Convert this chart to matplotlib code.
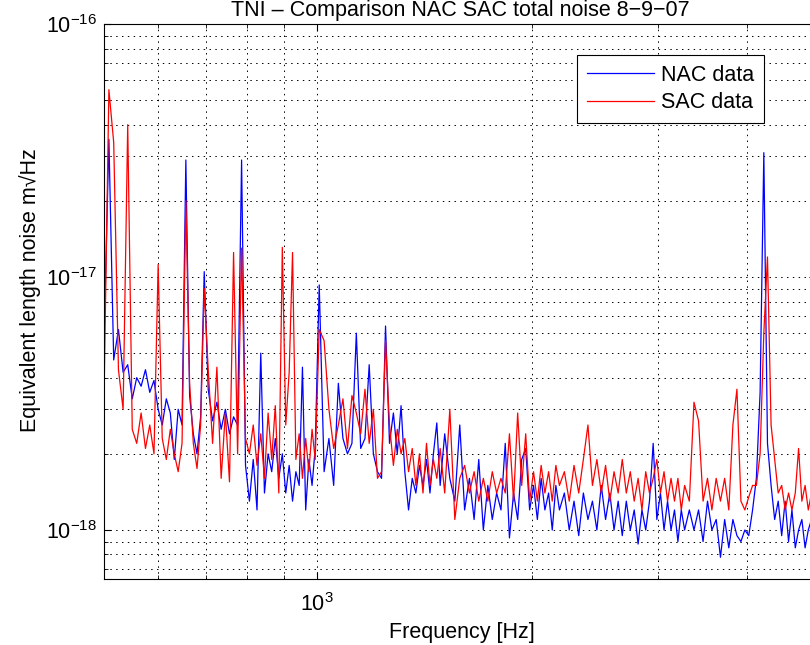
import numpy as np
import matplotlib
matplotlib.use("Agg")
import matplotlib.pyplot as plt
from matplotlib.ticker import NullFormatter, FixedLocator

plt.rcParams['font.family'] = ['Liberation Sans', 'DejaVu Sans']
plt.rcParams['mathtext.fontset'] = 'custom'
plt.rcParams['mathtext.rm'] = 'Liberation Sans'
plt.rcParams['mathtext.it'] = 'Liberation Sans:italic'
plt.rcParams['mathtext.bf'] = 'Liberation Sans:bold'

# frequency bins [Hz]
freq = [504, 512, 520, 528, 536, 544, 552, 560, 568, 576, 584, 592, 600,
        608, 616, 624, 632, 640, 648, 656, 664, 672, 680, 688, 696,
        705, 715, 725, 735, 745, 755, 765, 775, 785, 795, 805, 815, 825,
        835, 845, 855, 865, 875, 885, 895, 905, 915, 925, 935, 945, 955,
        965, 975, 985, 995,
        1008, 1024, 1040, 1056, 1072, 1088, 1104, 1120, 1136, 1152, 1168,
        1184, 1200, 1216, 1232, 1248, 1264, 1280, 1296, 1312, 1328, 1344,
        1360, 1376, 1392, 1408, 1424, 1440, 1456, 1472, 1488,
        1510, 1535, 1560, 1585, 1610, 1635, 1660, 1685, 1710, 1735, 1760,
        1785, 1810, 1835, 1860, 1885, 1910, 1935, 1960, 1985, 2010, 2035,
        2060, 2085, 2110, 2135, 2160, 2185,
        2220, 2255, 2290, 2325, 2360, 2395, 2430, 2465, 2500, 2535, 2570,
        2605, 2640, 2675, 2710, 2745, 2780, 2815, 2850, 2885, 2920, 2955,
        2990, 3025, 3060, 3095, 3130, 3165, 3200, 3235, 3270,
        3320, 3370, 3420, 3470, 3520, 3570, 3620, 3670, 3720, 3770, 3820,
        3870, 3920, 3970, 4020, 4070, 4120, 4170, 4220, 4270, 4320, 4370,
        4420, 4470, 4520, 4570, 4620, 4670, 4720, 4770, 4820, 4870, 4920]

# equivalent length noise, in units of 1e-18 m/sqrt(Hz)
nac = [5.6, 35, 4.7, 6.2, 4.2, 4.5, 3.3, 4.0, 3.7, 4.3, 3.5, 3.9, 3.0,
       2.6, 3.3, 2.9, 1.9, 3.0, 2.6, 29, 3.4, 2.4, 2.0, 2.8, 10.5,
       3.6, 2.7, 3.2, 2.5, 3.0, 2.4, 2.8, 2.6, 29, 1.8, 1.3, 1.9, 1.2,
       5.0, 1.4, 2.0, 1.7, 2.3, 1.6, 2.0, 1.4, 1.8, 1.3, 1.7, 1.5, 4.4,
       1.2, 1.9, 1.5, 2.1,
       9.3, 1.7, 2.3, 1.5, 3.8, 2.3, 2.0, 2.2, 6.0, 2.1, 2.3,
       4.5, 2.0, 1.7, 1.6, 6.4, 2.2, 2.9, 2.0, 3.1, 1.7, 1.2,
       1.6, 1.4, 1.8, 1.5, 1.9, 1.4, 2.0, 2.65, 1.5,
       2.4, 1.6, 1.3, 2.6, 1.2, 1.6, 1.1, 1.9, 1.0, 1.5, 1.1,
       1.4, 1.2, 2.2, 0.93, 1.4, 1.1, 1.9, 2.1, 1.2, 1.5, 1.1,
       1.6, 1.2, 1.4, 1.0, 1.5, 1.2,
       1.4, 1.0, 1.3, 0.95, 1.4, 1.1, 1.3, 1.0, 1.5, 1.1, 1.4,
       1.0, 1.3, 0.95, 1.3, 1.0, 1.2, 0.88, 1.2, 1.0, 1.3, 2.2,
       1.1, 1.4, 1.0, 1.3, 1.0, 1.2, 0.9, 1.2, 1.0,
       1.2, 1.0, 1.2, 0.9, 1.3, 1.0, 1.1, 0.78, 1.1, 0.85, 1.1,
       0.95, 0.9, 1.0, 0.95, 1.2, 1.6, 3.5, 31, 2.2, 1.5, 1.1,
       1.3, 0.95, 1.3, 0.9, 1.2, 0.85, 1.0, 1.1, 0.85, 1.0, 1.1]

sac = [3.3, 55, 34, 4.3, 3.0, 40, 2.5, 2.2, 2.9, 2.1, 2.6, 2.0, 11.2,
       2.3, 1.9, 2.5, 2.0, 1.7, 2.2, 20, 3.8, 2.2, 1.75, 2.6, 9.0,
       4.3, 2.2, 4.4, 1.6, 2.9, 1.55, 12.5, 2.0, 13, 2.3, 2.0, 2.6, 1.8,
       2.4, 1.6, 2.9, 1.9, 3.1, 1.4, 13.1, 2.6, 4.2, 12.5, 1.9, 2.4, 1.6,
       2.3, 1.7, 2.5, 1.9,
       6.2, 5.6, 3.0, 2.1, 2.6, 3.3, 2.1, 3.4, 2.9, 2.4, 3.6,
       2.2, 3.0, 1.6, 1.7, 5.6, 2.6, 1.8, 2.5, 2.0, 2.3, 1.7,
       2.1, 1.5, 2.0, 1.4, 2.2, 1.5, 1.9, 1.6, 2.1,
       1.4, 3.0, 1.1, 1.6, 1.8, 1.4, 1.7, 1.3, 1.6, 1.3, 1.7,
       1.4, 1.6, 1.4, 2.4, 1.3, 2.9, 1.5, 2.4, 1.3, 1.7, 1.3,
       1.8, 1.4, 1.7, 1.3, 1.8, 1.5,
       1.7, 1.3, 1.8, 1.4, 1.9, 2.6, 1.5, 1.9, 1.4, 1.8, 1.3,
       1.7, 1.4, 1.9, 1.4, 1.7, 1.3, 1.6, 1.2, 1.7, 1.4, 1.6,
       1.9, 1.4, 1.7, 1.3, 1.6, 1.3, 1.6, 1.2, 1.5,
       1.3, 3.2, 2.7, 1.3, 1.6, 1.2, 1.6, 1.3, 1.6, 1.2, 2.6,
       3.6, 1.3, 1.2, 1.35, 1.5, 1.5, 2.0, 6.0, 12, 2.6, 1.9,
       1.4, 1.5, 1.2, 1.4, 1.2, 1.4, 2.1, 1.3, 1.5, 1.2, 1.4]

y_major = [1e-18, 1e-17, 1e-16]
x_major = [1e3]

f = np.array(freq)
fig = plt.figure(figsize=(8.1, 6.45), dpi=100)
ax = fig.add_axes([0.1284, 0.1023, 0.8796, 0.8605])

ax.loglog(f, np.array(nac) * 1e-18, color='blue', lw=0.9, label='NAC data')
ax.loglog(f, np.array(sac) * 1e-18, color='red', lw=0.9, label='SAC data')

ax.set_xlim(504, 5000)
ax.set_ylim(6.4e-19, 1e-16)
ax.xaxis.set_major_locator(FixedLocator(x_major))
ax.yaxis.set_major_locator(FixedLocator(y_major))

ax.grid(True, which='both', color='black', linestyle=(0, (1.5, 4.5)), linewidth=0.7)
ax.tick_params(which='both', direction='in', top=True, right=True,
               labelsize=15.5, color='black')
ax.tick_params(which='major', length=5)
ax.tick_params(which='minor', length=3)
ax.tick_params(axis='x', pad=10)
ax.tick_params(axis='y', pad=5)
ax.xaxis.set_minor_formatter(NullFormatter())
ax.yaxis.set_minor_formatter(NullFormatter())
for s in ax.spines.values():
    s.set_linewidth(0.8)

ax.set_xlabel('Frequency [Hz]', fontsize=15.5)
ax.xaxis.set_label_coords(0.502, -0.078)
ax.set_ylabel('Equivalent length noise m\u221AHz', fontsize=15.5)
ax.yaxis.set_label_coords(-0.088, 0.521)

fig.text(460 / 810, 1 - 16 / 645, 'TNI \u2013 Comparison NAC SAC total noise 8\u22129\u221207',
         ha='center', va='baseline', fontsize=15.5)

leg = ax.legend(loc='upper right', bbox_to_anchor=(764 / 810, 1 - 55 / 645),
                bbox_transform=fig.transFigure, borderaxespad=0,
                fontsize=15.5, fancybox=False, handlelength=3.1,
                handletextpad=0.35, borderpad=0.45, labelspacing=0.3,
                framealpha=1)
leg.get_frame().set_edgecolor('black')
leg.get_frame().set_linewidth(0.8)

fig.savefig('out.png', dpi=100)
